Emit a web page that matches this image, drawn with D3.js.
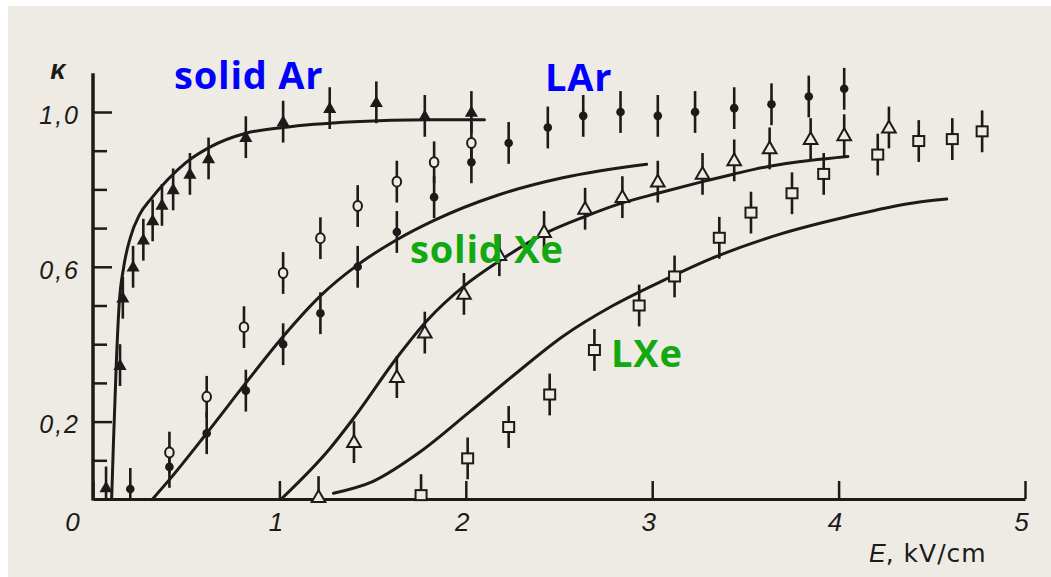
<!DOCTYPE html>
<html>
<head>
<meta charset="utf-8">
<script src="https://cdn.jsdelivr.net/npm/d3@7"></script>
<style>
  html, body { margin: 0; padding: 0; background: #ffffff; }
  svg { display: block; }
</style>
</head>
<body>
<svg id="chart" width="1051" height="577"></svg>
<script>
// ---- axis ticks ----
const xTicksMajor = [0, 1, 2, 3, 4, 5];
const xTicksMinor = [0.5, 1.5, 2.5, 3.5, 4.5];
const yTicksMajor = [0.2, 0.6, 1.0];
const yTicksMinor = [0.1, 0.3, 0.4, 0.5, 0.7, 0.8, 0.9];
const yTickLabels = ["0,2", "0,6", "1,0"];

// ---- measured points: field E (kV/cm) and collection coefficient κ ----
// solid argon (filled triangles)
const solidArE = [0.07, 0.145, 0.16, 0.215, 0.27, 0.32, 0.37, 0.43, 0.52, 0.62, 0.82, 1.02, 1.27, 1.52, 1.78, 2.03];
const solidArK = [0.03, 0.346, 0.52, 0.60, 0.67, 0.72, 0.76, 0.80, 0.84, 0.88, 0.935, 0.975, 1.01, 1.025, 0.99, 1.0];
// liquid argon (filled dots)
const liqArE = [0.2, 0.41, 0.61, 0.82, 1.02, 1.22, 1.42, 1.63, 1.83, 2.03, 2.23, 2.44, 2.63, 2.83, 3.03, 3.23, 3.44, 3.64, 3.84, 4.03];
const liqArK = [0.026, 0.083, 0.17, 0.28, 0.40, 0.48, 0.60, 0.69, 0.78, 0.87, 0.92, 0.96, 0.99, 1.0, 0.99, 1.0, 1.01, 1.02, 1.04, 1.06];
// liquid argon, second run (open circles)
const liqAr2E = [0.41, 0.61, 0.81, 1.02, 1.22, 1.42, 1.63, 1.83, 2.03];
const liqAr2K = [0.12, 0.264, 0.444, 0.584, 0.674, 0.757, 0.82, 0.87, 0.92];
// solid xenon (open triangles)
const solidXeE = [1.21, 1.40, 1.63, 1.78, 1.99, 2.18, 2.42, 2.64, 2.84, 3.03, 3.27, 3.44, 3.63, 3.85, 4.03, 4.27];
const solidXeK = [0.005, 0.147, 0.315, 0.43, 0.53, 0.63, 0.69, 0.75, 0.78, 0.82, 0.84, 0.875, 0.906, 0.93, 0.94, 0.96];
// liquid xenon (open squares)
const liqXeE = [1.76, 2.01, 2.23, 2.45, 2.69, 2.93, 3.12, 3.36, 3.53, 3.75, 3.92, 4.21, 4.43, 4.61, 4.77];
const liqXeK = [0.01, 0.105, 0.186, 0.27, 0.385, 0.50, 0.575, 0.675, 0.74, 0.79, 0.84, 0.89, 0.925, 0.93, 0.95];
const errK = 0.054;

// ---- calculated curves ----
const solidArCurveE = [0.10, 0.11, 0.125, 0.14, 0.165, 0.2, 0.25, 0.31, 0.4, 0.5, 0.63, 0.82, 1.02, 1.4, 1.8, 2.1];
const solidArCurveK = [0, 0.15, 0.35, 0.5, 0.6, 0.675, 0.735, 0.775, 0.825, 0.87, 0.91, 0.945, 0.96, 0.975, 0.98, 0.98];
const liqArCurveE = [0.32, 0.41, 0.61, 0.82, 1.02, 1.22, 1.42, 1.63, 1.83, 2.17, 2.52, 2.97];
const liqArCurveK = [0, 0.05, 0.17, 0.30, 0.42, 0.525, 0.605, 0.67, 0.72, 0.785, 0.83, 0.865];
const solidXeCurveE = [1.01, 1.27, 1.40, 1.63, 1.79, 1.99, 2.18, 2.42, 2.64, 2.84, 3.03, 3.27, 3.44, 3.63, 3.85, 4.05];
const solidXeCurveK = [0, 0.13, 0.21, 0.365, 0.46, 0.55, 0.615, 0.685, 0.73, 0.765, 0.79, 0.82, 0.84, 0.86, 0.875, 0.885];
const liqXeCurveE = [1.29, 1.50, 1.75, 2.02, 2.27, 2.52, 2.79, 3.06, 3.31, 3.69, 4.05, 4.40, 4.58];
const liqXeCurveK = [0.015, 0.045, 0.12, 0.225, 0.325, 0.42, 0.5, 0.565, 0.62, 0.685, 0.73, 0.765, 0.775];

// ---- layout ----
const INK = "#1c1b1a";
const PAPER = "#eeebe4";
const BLUE = "#0000ff";
const GREEN = "#12a812";

const svg = d3.select("#chart");
svg.append("rect").attr("x", 8).attr("y", 6).attr("width", 1043).attr("height", 571).attr("fill", PAPER);

const x = d3.scaleLinear().domain([0, 5]).range([93, 1025]);
const y = d3.scaleLinear().domain([0, 1]).range([499, 112]);

const zip = (a, b) => a.map((v, i) => [v, b[i]]);

// ---- axes ----
const tickFont = "'Liberation Sans', Arial, sans-serif";

const gx = svg.append("g").attr("transform", `translate(0,${y(0)})`);
gx.call(d3.axisBottom(x).tickValues(xTicksMinor).tickSizeInner(-12).tickSizeOuter(0).tickFormat(""));
gx.call(d3.axisBottom(x).tickValues(xTicksMajor).tickSizeInner(-18).tickSizeOuter(0).tickPadding(14)
  .tickFormat(d3.format("d")));
gx.selectAll(".domain").attr("stroke", INK).attr("stroke-width", 3);
gx.selectAll(".tick line").attr("stroke", INK).attr("stroke-width", 2.5);
gx.selectAll(".tick text")
  .attr("fill", INK).attr("font-family", tickFont).attr("font-style", "italic")
  .attr("font-size", 26).attr("dx", d => d === 0 ? -21 : -4);

const gyMinor = svg.append("g").attr("transform", `translate(${x(0)},0)`);
gyMinor.call(d3.axisLeft(y).tickValues(yTicksMinor).tickSizeInner(-14).tickSizeOuter(0).tickFormat(""));
const gy = svg.append("g").attr("transform", `translate(${x(0)},0)`);
gy.call(d3.axisLeft(y).tickValues(yTicksMajor).tickSizeInner(-19).tickSizeOuter(0).tickPadding(13)
  .tickFormat((d, i) => yTickLabels[i]));
svg.selectAll(".domain").filter(function () { return this.parentNode !== gx.node(); }).remove();
[gy, gyMinor].forEach(g => g.selectAll(".tick line").attr("stroke", INK).attr("stroke-width", 2.5));
gy.selectAll(".tick text")
  .attr("fill", INK).attr("font-family", tickFont).attr("font-style", "italic")
  .attr("font-size", 25).attr("letter-spacing", 2).attr("dy", "0.45em");

// vertical axis line reaching slightly above κ = 1
svg.append("line")
  .attr("x1", x(0)).attr("x2", x(0)).attr("y1", y(0) + 1.5).attr("y2", y(1.1))
  .attr("stroke", INK).attr("stroke-width", 3.5);

// axis titles
svg.append("text").attr("x", 58).attr("y", 79).attr("text-anchor", "middle")
  .attr("font-family", tickFont).attr("font-style", "italic").attr("font-weight", 700)
  .attr("font-size", 27).attr("fill", INK).text("κ");
const xt = svg.append("text").attr("x", 869).attr("y", 562)
  .attr("font-family", "'DejaVu Sans', sans-serif").attr("font-size", 25).attr("fill", INK);
xt.append("tspan").attr("font-style", "italic").attr("font-family", tickFont).text("E");
xt.append("tspan").attr("letter-spacing", 1).text(", kV/cm");

// ---- curves ----
const line = d3.line().x(d => x(d[0])).y(d => y(d[1])).curve(d3.curveMonotoneX);
[
  zip(solidArCurveE, solidArCurveK),
  zip(liqArCurveE, liqArCurveK),
  zip(solidXeCurveE, solidXeCurveK),
  zip(liqXeCurveE, liqXeCurveK)
].forEach(pts => {
  svg.append("path").datum(pts).attr("d", line)
    .attr("fill", "none").attr("stroke", INK).attr("stroke-width", 3).attr("stroke-linecap", "round");
});

// ---- error bars ----
function errorBars(pts) {
  svg.append("g").selectAll("line").data(pts).join("line")
    .attr("x1", d => x(d[0])).attr("x2", d => x(d[0]))
    .attr("y1", d => y(Math.max(0, d[1] - errK))).attr("y2", d => y(d[1] + errK))
    .attr("stroke", INK).attr("stroke-width", 2.6);
}
const solidAr = zip(solidArE, solidArK);
const liqAr = zip(liqArE, liqArK);
const liqAr2 = zip(liqAr2E, liqAr2K);
const solidXe = zip(solidXeE, solidXeK);
const liqXe = zip(liqXeE, liqXeK);
[solidAr, liqAr, liqAr2, solidXe, liqXe].forEach(errorBars);

// ---- markers ----
const tri = d3.symbol().type(d3.symbolTriangle);
svg.append("g").selectAll("path").data(solidAr).join("path")
  .attr("transform", d => `translate(${x(d[0])},${y(d[1]) + 1})`)
  .attr("d", tri.size(75)()).attr("fill", INK);

svg.append("g").selectAll("circle").data(liqAr).join("circle")
  .attr("cx", d => x(d[0])).attr("cy", d => y(d[1])).attr("r", 4.3).attr("fill", INK);

svg.append("g").selectAll("ellipse").data(liqAr2).join("ellipse")
  .attr("cx", d => x(d[0])).attr("cy", d => y(d[1])).attr("rx", 4.3).attr("ry", 5)
  .attr("fill", PAPER).attr("stroke", INK).attr("stroke-width", 2);

svg.append("g").selectAll("path").data(solidXe).join("path")
  .attr("transform", d => `translate(${x(d[0])},${y(d[1]) + 1})`)
  .attr("d", tri.size(80)()).attr("fill", PAPER).attr("stroke", INK).attr("stroke-width", 2);

svg.append("g").selectAll("rect").data(liqXe).join("rect")
  .attr("x", d => x(d[0]) - 5.5).attr("y", d => y(d[1]) - 5).attr("width", 11).attr("height", 10)
  .attr("fill", PAPER).attr("stroke", INK).attr("stroke-width", 2);

// ---- series labels ----
const labelFont = "'Open Sans', 'Noto Sans', sans-serif";
function label(text, lx, ly, color) {
  svg.append("text").attr("x", lx).attr("y", ly).text(text)
    .attr("font-family", labelFont).attr("font-weight", 700).attr("font-size", 38)
    .attr("letter-spacing", 0.8).attr("fill", color);
}
label("solid Ar", 174, 89, BLUE);
label("LAr", 545, 91, BLUE);
label("solid Xe", 410, 263, GREEN);
label("LXe", 611, 367, GREEN);
</script>
</body>
</html>
